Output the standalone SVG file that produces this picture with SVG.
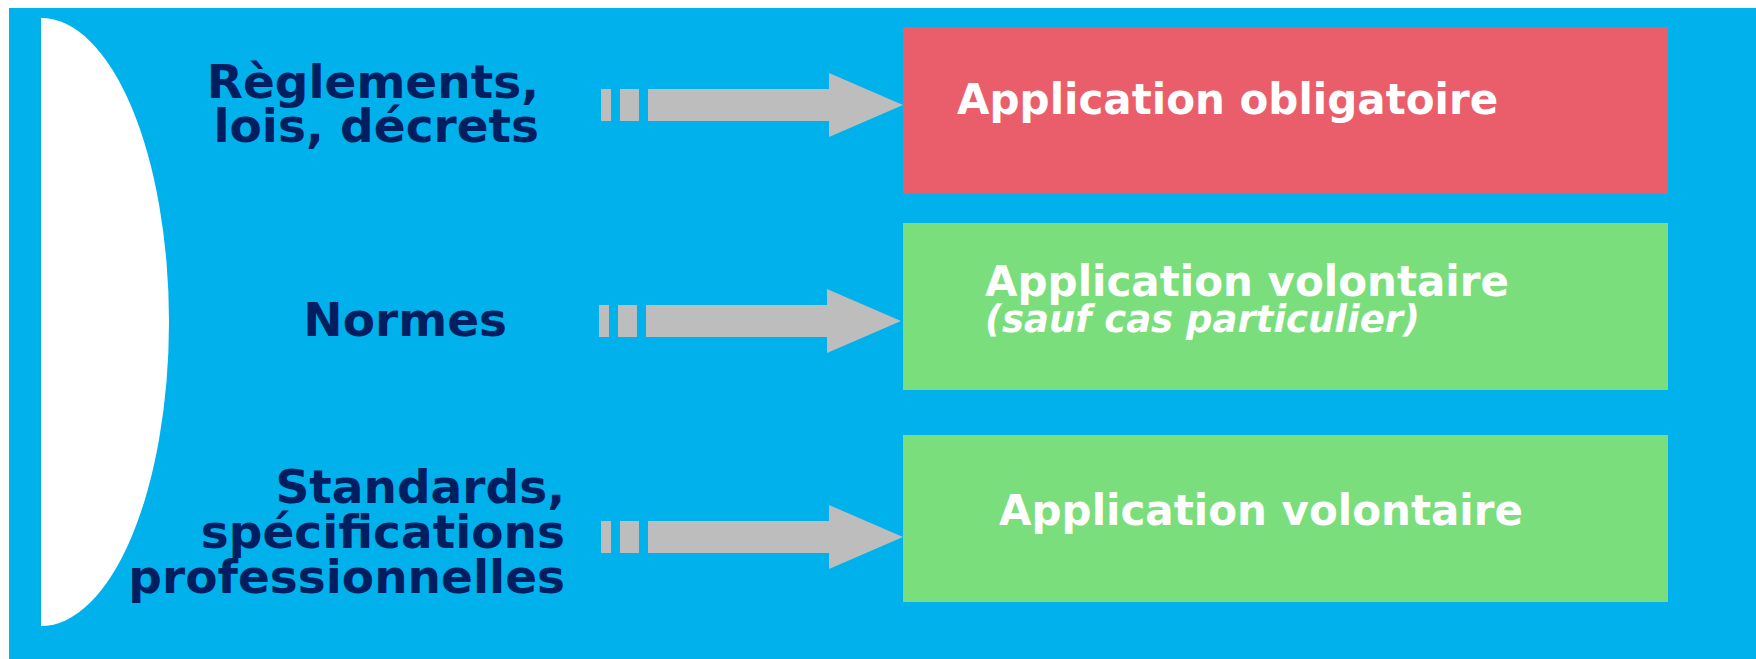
<svg xmlns="http://www.w3.org/2000/svg" width="1756" height="659" viewBox="0 0 1756 659">
<style>
.lbl{font-family:"DejaVu Sans",Verdana,sans-serif;font-weight:bold;font-size:47px;fill:#001E60;text-anchor:end}
.btxt{font-family:"DejaVu Sans",Verdana,sans-serif;font-weight:bold;font-size:42px;fill:#FFFFFF}
.it{font-style:italic;font-size:37px}
.arr{fill:#BDBDBD}
</style>
<defs>
<g id="arrowShape">
<rect x="0" y="-16" width="10" height="32"/>
<rect x="19" y="-16" width="19" height="32"/>
<rect x="47" y="-16" width="182" height="32"/>
<polygon points="228,-32 302,0 228,32"/>
</g>
</defs>
<rect x="0" y="0" width="1756" height="659" fill="#FFFFFF"/>
<rect x="9" y="8" width="1747" height="651" fill="#00B1EB"/>
<path d="M41,18 A128,304 0 0 1 41,626 Z" fill="#FFFFFF"/>
<g id="connectors" class="arr">
<use href="#arrowShape" transform="translate(601,105)"/>
<use href="#arrowShape" transform="translate(599,321)"/>
<use href="#arrowShape" transform="translate(601,537)"/>
</g>
<g id="reglements">
<text class="lbl" x="539" y="98">Règlements,</text>
<text class="lbl" x="539" y="142">lois, décrets</text>
</g>
<g id="normes">
<text class="lbl" x="507" y="336">Normes</text>
</g>
<g id="standards">
<text class="lbl" x="565" y="503">Standards,</text>
<text class="lbl" x="565" y="548">spécifications</text>
<text class="lbl" x="565" y="593">professionnelles</text>
</g>
<g id="obligatoire">
<rect x="903" y="27" width="765" height="167" fill="#EA5E6B"/>
<text class="btxt" x="957" y="114">Application obligatoire</text>
</g>
<g id="volontaire1">
<rect x="903" y="223" width="765" height="167" fill="#7ADE7C"/>
<text class="btxt" x="985" y="296">Application volontaire</text>
<text class="btxt it" x="985" y="332">(sauf cas particulier)</text>
</g>
<g id="volontaire2">
<rect x="903" y="435" width="765" height="167" fill="#7ADE7C"/>
<text class="btxt" x="999" y="525">Application volontaire</text>
</g>
</svg>
